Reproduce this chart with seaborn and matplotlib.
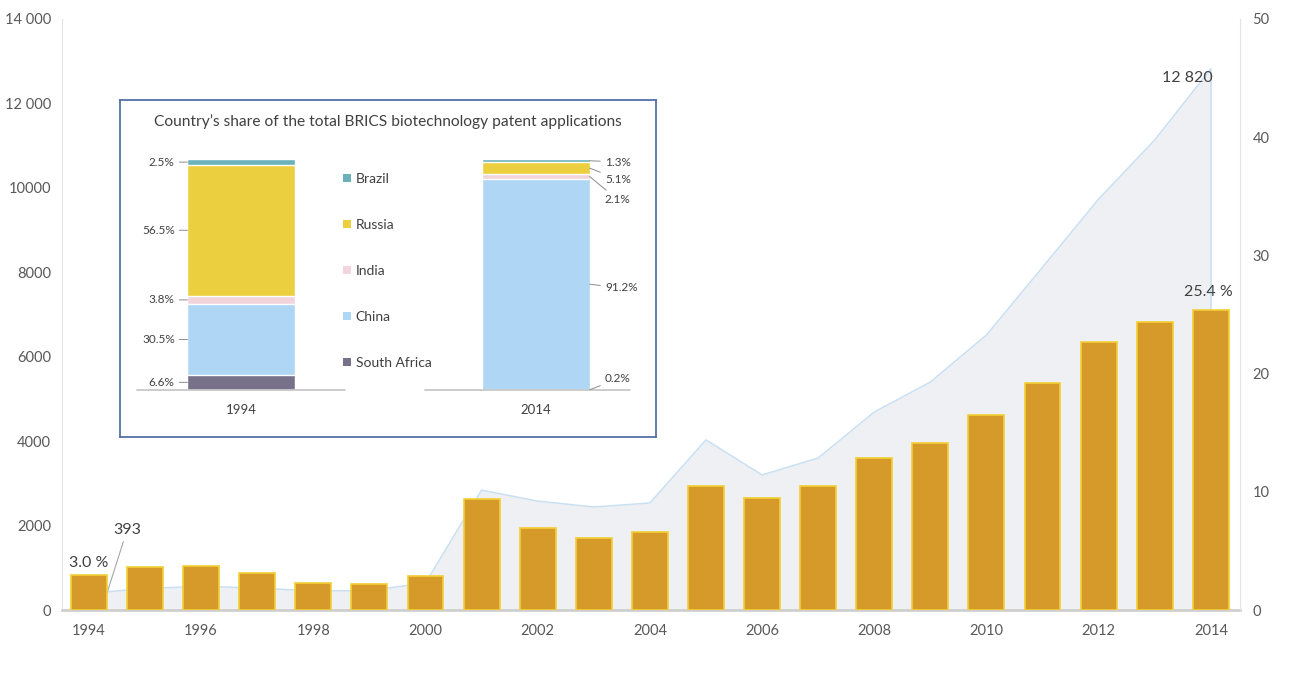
import matplotlib
matplotlib.use("Agg")
import matplotlib.pyplot as plt
from matplotlib.patches import Patch
import numpy as np
import pandas as pd
import seaborn as sns

# main chart data: BRICS biotech patent applications and share of world total
years = list(range(1994, 2015))
applications = [393, 510, 560, 520, 450, 460, 640, 2840, 2580, 2440, 2535,
                4030, 3200, 3600, 4690, 5400, 6515, 8120, 9735, 11135, 12820]
share_pct = [3.0, 3.6, 3.7, 3.1, 2.3, 2.2, 2.9, 9.4, 6.9, 6.1, 6.6,
             10.5, 9.5, 10.5, 12.9, 14.1, 16.5, 19.2, 22.7, 24.4, 25.4]

left_ticks = [0, 2000, 4000, 6000, 8000, 10000, 12000, 14000]
left_tick_labels = ["0", "2000", "4000", "6000", "8000", "10000", "12 000", "14 000"]
right_ticks = [0, 10, 20, 30, 40, 50]

# inset data: country shares (stacking order bottom -> top is reversed)
countries = ["Brazil", "Russia", "India", "China", "South Africa"]
share_1994 = [2.5, 56.5, 3.8, 30.5, 6.6]
share_2014 = [1.3, 5.1, 2.1, 91.2, 0.2]
inset_years = ["1994", "2014"]
country_colors = ["#6AB1B9", "#ECCF3F", "#F1D5DB", "#AFD6F5", "#777189"]
label_y_2014 = [98.7, 91.3, 82.3, 44.2, 4.8]

sns.set_theme(style="white")
plt.rcParams["font.family"] = ["Lato", "DejaVu Sans"]
txt = "#404040"
tick_col = "#595959"

fig = plt.figure(figsize=(13.05, 6.94), dpi=100)
ax = fig.add_axes([62 / 1305, 84 / 694, 1178 / 1305, 591 / 694])
ax2 = ax.twinx()

# area series (left axis)
ax.fill_between(years, applications, color="#EEF0F3", lw=0, zorder=1)
sns.lineplot(x=years, y=applications, ax=ax, color="#C9E0F3", lw=1.1, zorder=2)
ax.vlines(years[-1], 0, applications[-1], color="#C9E0F3", lw=1.1, zorder=2)

# bars (right axis)
sns.barplot(x=years, y=share_pct, ax=ax2, native_scale=True, width=0.64,
            color="#D59A29", edgecolor="#F3CF35", linewidth=1.2, saturation=1)

ax.set_xlim(years[0] - 0.48, years[-1] + 0.52)
ax.set_ylim(0, 14000)
ax2.set_ylim(0, 50)
ax.set_yticks(left_ticks, left_tick_labels)
ax2.set_yticks(right_ticks, [str(t) for t in right_ticks])
ax.set_xticks(years[::2], [str(y) for y in years[::2]])
ax.set_xlabel("")
ax.set_ylabel("")
ax2.set_ylabel("")
ax.tick_params(axis="y", length=0, pad=8, labelsize=10.5, labelcolor=tick_col)
ax.tick_params(axis="x", length=0, pad=10, labelsize=10.5, labelcolor=tick_col)
ax2.tick_params(axis="y", length=0, pad=9, labelsize=10.5, labelcolor=tick_col)

for s in ["top", "right"]:
    ax.spines[s].set_visible(False)
for s in ["top", "left", "bottom"]:
    ax2.spines[s].set_visible(False)
ax.spines["left"].set_color("#E3E3E3")
ax.spines["left"].set_linewidth(0.8)
ax2.spines["right"].set_color("#E3E3E3")
ax2.spines["right"].set_linewidth(0.8)
ax.spines["bottom"].set_color("#CFCFCF")
ax.spines["bottom"].set_linewidth(2)

# value annotations
ax2.text(years[0], 3.4, f"{share_pct[0]:.1f} %", ha="center", va="bottom",
         fontsize=11.5, color=txt)
ax2.text(years[-1] - 0.05, 26.3, f"{share_pct[-1]:.1f} %", ha="center", va="bottom",
         fontsize=11.5, color=txt)
ax.annotate(f"{applications[0]}", xy=(years[0] + 0.32, applications[0]),
            xytext=(years[0] + 0.68, 1895), ha="center", va="center",
            fontsize=11.5, color=txt,
            arrowprops=dict(arrowstyle="-", color="#A6A6A6", lw=0.8, shrinkA=1, shrinkB=0))
ax.text(years[-1] - 0.41, 12600, f"{applications[-1]:,}".replace(",", " "),
        ha="center", va="center", fontsize=11.5, color=txt)

# inset frame
frame = fig.add_axes([120 / 1305, 257 / 694, 536 / 1305, 337 / 694], zorder=5)
frame.set_facecolor("white")
frame.set_xticks([])
frame.set_yticks([])
for s in frame.spines.values():
    s.set_color("#5571A6")
    s.set_linewidth(1.3)
frame.text(0.5, 0.935, "Country\u2019s share of the total BRICS biotechnology patent applications",
           ha="center", va="center", fontsize=11.2, color=txt, transform=frame.transAxes)

# inset stacked bars
ax_in = fig.add_axes([137 / 1305, 304 / 694, 493 / 1305, 231 / 694], zorder=6)
ax_in.patch.set_visible(False)
stack_df = pd.DataFrame({"country": countries, "1994": share_1994, "2014": share_2014})
bottom_up = stack_df.iloc[::-1].copy()
for col in inset_years:
    bottom_up[col + "_top"] = bottom_up[col].cumsum()
    bottom_up[col + "_mid"] = bottom_up[col + "_top"] - bottom_up[col] / 2
draw_order = bottom_up.iloc[::-1]
for _, row in draw_order.iterrows():
    c = country_colors[countries.index(row["country"])]
    sns.barplot(x=inset_years, y=[row["1994_top"], row["2014_top"]], ax=ax_in,
                order=inset_years, width=0.365, color=c, edgecolor="white",
                linewidth=1, saturation=1)

ax_in.set_xlim(-0.353, 1.319)
ax_in.set_ylim(0, 100)
ax_in.set_yticks([])
ax_in.set_xlabel("")
ax_in.set_ylabel("")
ax_in.tick_params(axis="x", length=0, pad=10, labelsize=9.5, labelcolor=txt)
for s in ax_in.spines.values():
    s.set_visible(False)
ax_in.axhline(0, xmin=0, xmax=208 / 493, color="#C8C8C8", lw=1.3, clip_on=False)
ax_in.axhline(0, xmin=288 / 493, xmax=1, color="#C8C8C8", lw=1.3, clip_on=False)

lead = dict(arrowstyle="-", color="#8C8C8C", lw=0.7, shrinkA=1, shrinkB=0)
for _, row in bottom_up.iterrows():
    ax_in.annotate(f"{row['1994']}%", xy=(-0.182, row["1994_mid"]),
                   xytext=(-0.225, row["1994_mid"]), ha="right", va="center",
                   fontsize=8.5, color=txt, arrowprops=lead)
for i, name in enumerate(countries):
    row = bottom_up[bottom_up["country"] == name].iloc[0]
    ax_in.annotate(f"{row['2014']}%", xy=(1.182, row["2014_mid"]),
                   xytext=(1.234, label_y_2014[i]), ha="left", va="center",
                   fontsize=8.5, color=txt, arrowprops=lead)

handles = [Patch(facecolor=c, edgecolor="none") for c in country_colors]
ax_in.legend(handles, countries, loc="upper left", bbox_to_anchor=(0.418, 0.94),
             frameon=False, fontsize=10, handlelength=0.6, handleheight=0.6,
             handletextpad=0.3, labelspacing=2.45, borderpad=0, borderaxespad=0,
             labelcolor=txt)

fig.savefig("out.png", dpi=100)
